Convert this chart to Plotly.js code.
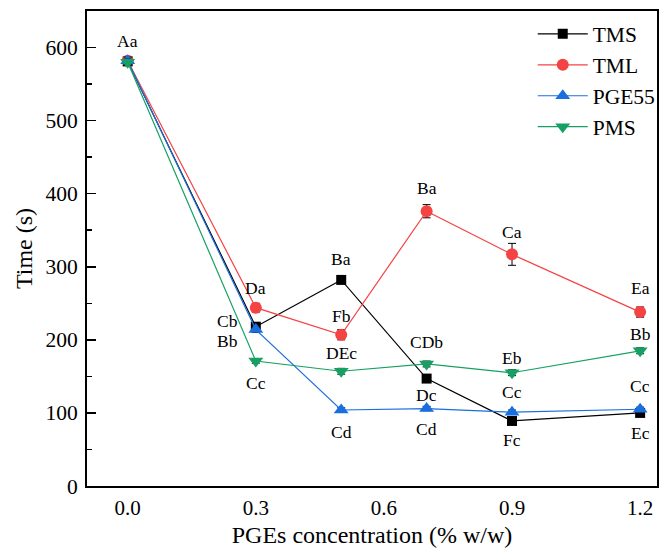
<!DOCTYPE html>
<html>
<head>
<meta charset="utf-8">
<script src="https://cdn.plot.ly/plotly-3.0.1.min.js"></script>
<style>html,body{margin:0;padding:0;background:#fff;}#chart{width:661px;height:554px;}</style>
</head>
<body>
<div id="chart"></div>
<script>
// ---- data ----
const concentration = [0.0, 0.3, 0.5, 0.7, 0.9, 1.2];
const xTickVals = [0.0, 0.3, 0.6, 0.9, 1.2];
const xTickText = ['0.0', '0.3', '0.6', '0.9', '1.2'];

const tmsTime = [581, 218, 282, 147, 89, 100];
const tmsErr  = [4, 5, 3, 5, 3, 3];
const tmlTime = [582, 244, 207, 376, 317, 238];
const tmlErr  = [5, 6, 7, 9, 15, 7];
const pgeTime = [582, 214, 104, 106, 101, 105];
const pgeErr  = [5, 4, 3, 3, 3, 3];
const pmsTime = [580, 171, 157, 167, 155, 185];
const pmsErr  = [4, 3, 4, 4, 4, 4];

const tmsLabels = ['', 'Cb', 'Ba', 'Dc', 'Fc', 'Ec'];
const tmlLabels = ['Aa', 'Da', 'Fb', 'Ba', 'Ca', 'Ea'];
const pgeLabels = ['', 'Bb', 'Cd', 'Cd', 'Cc', 'Cc'];
const pmsLabels = ['', 'Cc', 'DEc', 'CDb', 'Eb', 'Bb'];

// ---- label placement (pixel shifts, layout only) ----
const tmsShift = [[0,0], [-28,6], [0,21], [0,-16], [0,-19], [0,-20]];
const tmlShift = [[0,20], [0,20], [0,19], [0,23], [0,22], [0,24]];
const pgeShift = [[0,0], [-28,-11], [0,-22], [0,-20], [0,20], [0,23]];
const pmsShift = [[0,0], [0,-22], [0,18], [0,22], [0,15], [0,17]];

const FONT = 'Liberation Serif, Times New Roman, serif';

function series(name, y, err, color, symbol, size) {
  return {
    x: concentration, y: y, name: name, type: 'scatter', mode: 'lines+markers',
    line: {color: color, width: 1.2},
    marker: {symbol: symbol, size: size, color: color, line: {width: 0}},
    error_y: {type: 'data', array: err, visible: true, color: '#000', thickness: 1, width: 4}
  };
}

const traces = [
  series('TMS', tmsTime, tmsErr, '#000000', 'square', 10),
  series('TML', tmlTime, tmlErr, '#f54343', 'circle', 12),
  series('PGE55', pgeTime, pgeErr, '#1a6fdf', 'triangle-up', 13),
  series('PMS', pmsTime, pmsErr, '#16a064', 'triangle-down', 13)
];

const annotations = [];
function addLabels(y, labels, shifts) {
  labels.forEach((t, i) => {
    if (!t) return;
    annotations.push({
      x: concentration[i], y: y[i], xref: 'x', yref: 'y', text: t, showarrow: false,
      xshift: shifts[i][0], yshift: shifts[i][1],
      font: {family: FONT, size: 17.5, color: '#000'}
    });
  });
}
addLabels(tmsTime, tmsLabels, tmsShift);
addLabels(tmlTime, tmlLabels, tmlShift);
addLabels(pgeTime, pgeLabels, pgeShift);
addLabels(pmsTime, pmsLabels, pmsShift);

const layout = {
  width: 661, height: 554,
  margin: {l: 87, r: 0, t: 11, b: 68},
  paper_bgcolor: '#fff', plot_bgcolor: '#fff',
  font: {family: FONT, color: '#000', size: 21},
  showlegend: true,
  legend: {
    x: 0.782, y: 0.995, xanchor: 'left', yanchor: 'top',
    font: {family: FONT, size: 21.5, color: '#000'},
    bgcolor: 'rgba(0,0,0,0)', borderwidth: 0, itemwidth: 50, tracegroupgap: 0
  },
  xaxis: {
    range: [-0.0953, 1.2395],
    tickvals: xTickVals, ticktext: xTickText,
    ticks: '', showgrid: false, zeroline: false,
    showline: true, linecolor: '#000', linewidth: 2, mirror: true,
    tickfont: {family: FONT, size: 21}, ticklabelstandoff: 2,
    title: {text: 'PGEs concentration (% w/w)', font: {family: FONT, size: 24}, standoff: 7}
  },
  yaxis: {
    range: [0, 650], dtick: 100, tick0: 0,
    ticks: 'inside', ticklen: 9, tickwidth: 1.5, tickcolor: '#000',
    minor: {dtick: 50, ticks: 'inside', ticklen: 5, tickwidth: 1.5, tickcolor: '#000'},
    showgrid: false, zeroline: false,
    showline: true, linecolor: '#000', linewidth: 2, mirror: true,
    tickfont: {family: FONT, size: 21.5}, ticklabelstandoff: 3,
    title: {text: 'Time (s)', font: {family: FONT, size: 24}, standoff: 6}
  },
  annotations: annotations
};

Plotly.newPlot('chart', traces, layout, {displayModeBar: false, staticPlot: true});
</script>
</body>
</html>
